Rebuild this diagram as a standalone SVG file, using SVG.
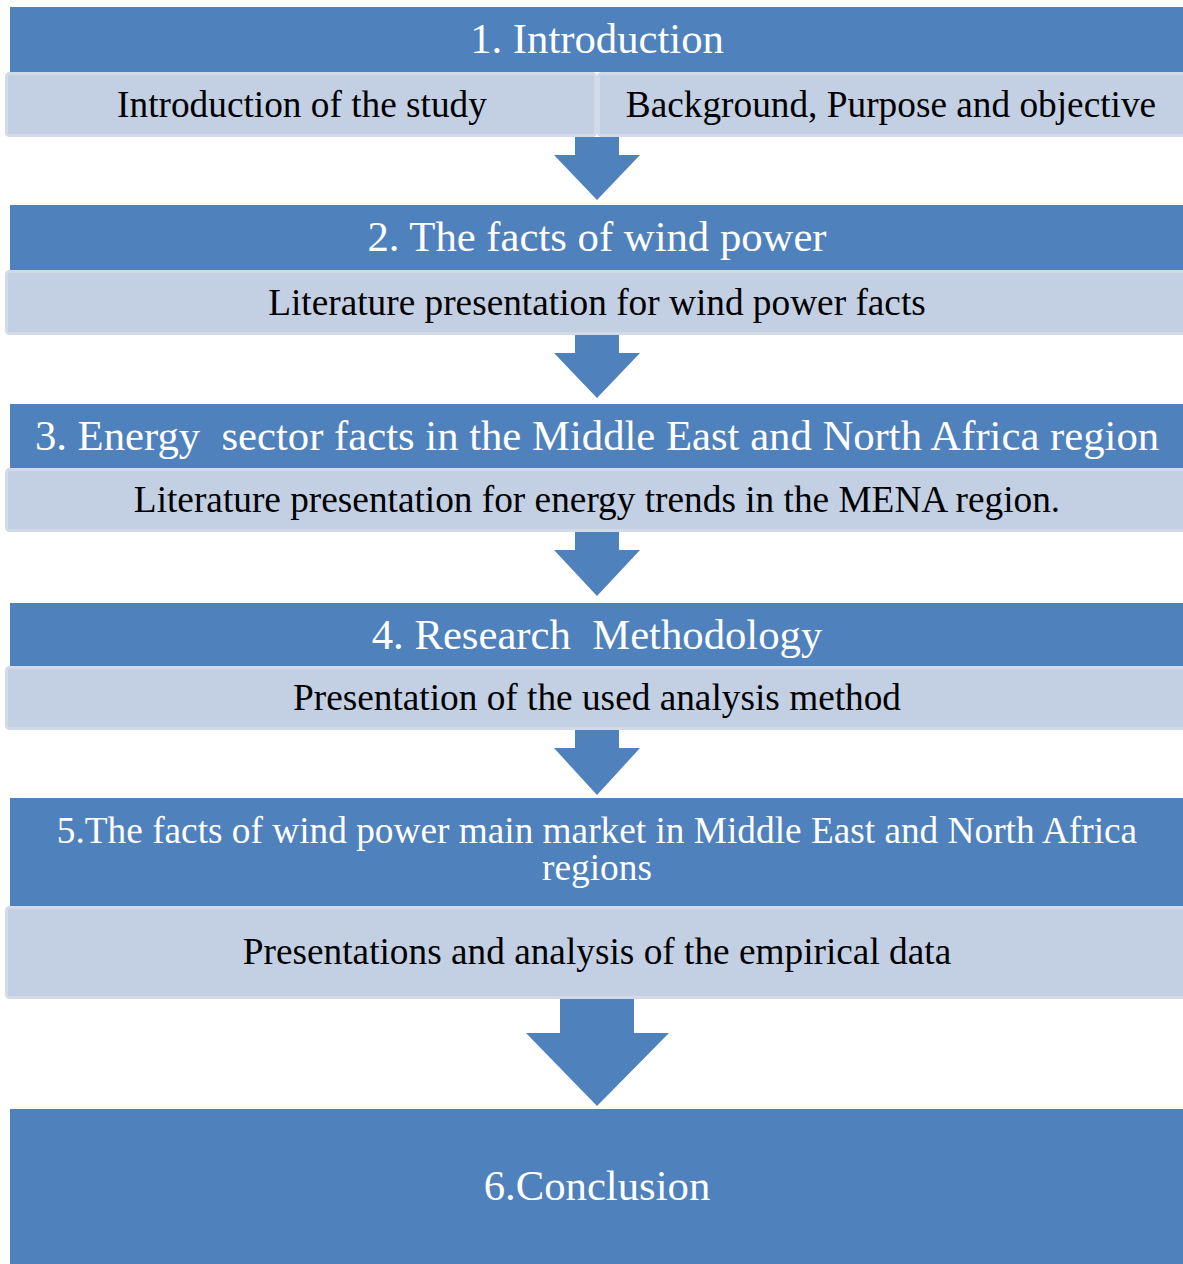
<svg xmlns="http://www.w3.org/2000/svg" width="1183" height="1264" viewBox="0 0 1183 1264">
  <style>
    .bar { fill: #4f81bd; }
    .sub { fill: #c3cfe3; stroke: #d2daea; stroke-width: 3; }
    .arrow { fill: #4f81bd; }
    .title { font-family: "Liberation Serif", "Times New Roman", serif; font-size: 42.7px; fill: #ffffff; text-anchor: middle; white-space: pre; }
    .title.small { font-size: 37.3px; }
    .label { font-family: "Liberation Serif", "Times New Roman", serif; font-size: 37.3px; fill: #000000; text-anchor: middle; }
  </style>
  <rect width="1183" height="1264" fill="#ffffff"/>

  <!-- step 1 -->
  <g id="step1">
    <rect class="bar" x="10" y="7" width="1180" height="65"/>
    <text class="title" x="597" y="53">1. Introduction</text>
  </g>
  <g id="step1-study">
    <rect class="sub" x="6.5" y="73.5" width="589" height="62" rx="3"/>
    <text class="label" x="302" y="117">Introduction of the study</text>
  </g>
  <g id="step1-background">
    <rect class="sub" x="598.5" y="73.5" width="600" height="62" rx="3"/>
    <text class="label" x="891" y="117">Background, Purpose and objective</text>
  </g>

  <!-- step 2 -->
  <g id="step2">
    <rect class="bar" x="10" y="205" width="1180" height="65"/>
    <text class="title" x="597" y="251">2. The facts of wind power</text>
  </g>
  <g id="step2-literature">
    <rect class="sub" x="6.5" y="271.5" width="1190" height="62" rx="3"/>
    <text class="label" x="597" y="315">Literature presentation for wind power facts</text>
  </g>

  <!-- step 3 -->
  <g id="step3">
    <rect class="bar" x="10" y="404" width="1180" height="64"/>
    <text class="title" x="597" y="450">3. Energy  sector facts in the Middle East and North Africa region</text>
  </g>
  <g id="step3-literature">
    <rect class="sub" x="6.5" y="469.5" width="1190" height="61" rx="3"/>
    <text class="label" x="597" y="512">Literature presentation for energy trends in the MENA region.</text>
  </g>

  <!-- step 4 -->
  <g id="step4">
    <rect class="bar" x="10" y="603" width="1180" height="63"/>
    <text class="title" x="597" y="649">4. Research  Methodology</text>
  </g>
  <g id="step4-method">
    <rect class="sub" x="6.5" y="667.5" width="1190" height="61" rx="3"/>
    <text class="label" x="597" y="710">Presentation of the used analysis method</text>
  </g>

  <!-- step 5 -->
  <g id="step5">
    <rect class="bar" x="10" y="798" width="1180" height="108"/>
    <text class="title small" x="597" y="843">5.The facts of wind power main market in Middle East and North Africa</text>
    <text class="title small" x="597" y="880">regions</text>
  </g>
  <g id="step5-data">
    <rect class="sub" x="6.5" y="907.5" width="1190" height="90" rx="3"/>
    <text class="label" x="597" y="964">Presentations and analysis of the empirical data</text>
  </g>

  <!-- step 6 -->
  <g id="step6">
    <rect class="bar" x="10" y="1109" width="1180" height="155"/>
    <text class="title" x="597" y="1200">6.Conclusion</text>
  </g>

  <!-- down arrows between the steps -->
  <g id="connectors">
    <path class="arrow" d="M575 137 H619 V155 H640 L597 200 L554 155 H575 Z"/>
    <path class="arrow" d="M575 335 H619 V353 H640 L597 398 L554 353 H575 Z"/>
    <path class="arrow" d="M575 532 H619 V550 H640 L597 596 L554 550 H575 Z"/>
    <path class="arrow" d="M575 730 H619 V748 H640 L597 795 L554 748 H575 Z"/>
    <path class="arrow" d="M560 999 H634 V1033 H669 L597 1106 L526 1033 H560 Z"/>
  </g>
</svg>
